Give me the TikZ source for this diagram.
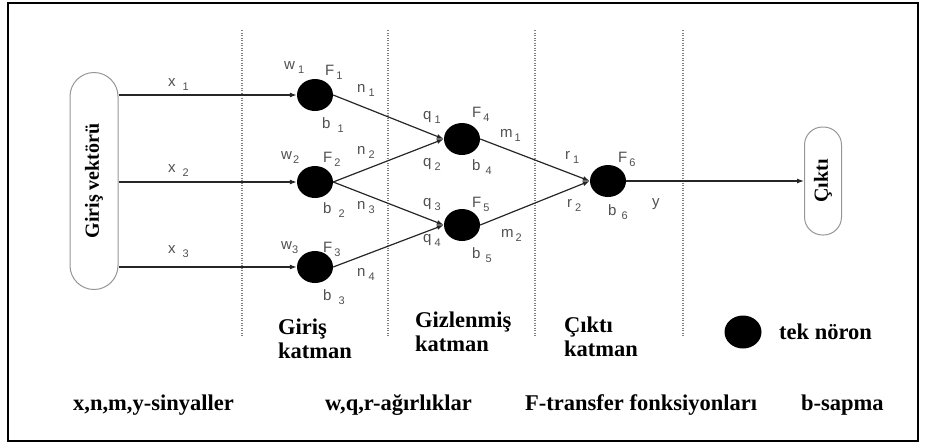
\documentclass[tikz,border=0pt]{standalone}
\usepackage{fontspec}
\usepackage{graphicx}
\setmainfont{Liberation Serif}
\newfontfamily\labfont{Liberation Sans}
\usetikzlibrary{arrows.meta,shapes.geometric}
\definecolor{labgray}{RGB}{80,80,80}
\definecolor{boxgray}{RGB}{150,150,150}
% letter with a lowered index
\newcommand{\sig}[3][4pt]{#2\hspace{#1}\raisebox{-4pt}{\fontsize{11}{11}\selectfont #3}}

\begin{document}
\begin{tikzpicture}[x=1pt,y=-1pt,
  neuron/.style={ellipse,fill=black,minimum width=36pt,minimum height=32pt,inner sep=0pt},
  vecbox/.style={draw=boxgray,line width=1pt,rounded corners=#1,inner sep=0pt},
  lab/.style={font={\labfont\fontsize{15}{15}\selectfont},text=labgray,inner sep=0pt,anchor=base west},
  txt/.style={font={\bfseries\fontsize{22.5}{24}\selectfont},inner sep=0pt,align=left,anchor=west},
  sig/.style={-{Latex[length=7pt,width=5pt]},line width=1.2pt,draw=black!85},
  sep/.style={draw=gray,line width=1.2pt,dash pattern=on 1pt off 1.5pt}]

% Frame
\useasboundingbox (0,0) rectangle (926,445);
\draw[line width=2pt] (8,3) rectangle (918,441);

% Layer borders
\foreach \x in {242,388,535,683}
  \draw[sep] (\x,30) -- (\x,337);

% Input and output vectors
\node[vecbox=24pt,minimum width=48pt,minimum height=217pt] (inp) at (94,181)
  {\rotatebox{90}{\bfseries\fontsize{20}{20}\selectfont Giriş vektörü}};
\node[vecbox=18pt,minimum width=37pt,minimum height=108pt] (out) at (823,181)
  {\rotatebox{90}{\bfseries\fontsize{20}{20}\selectfont Çıktı}};

% Neurons
\node[neuron] (f1) at (315,95) {};
\node[neuron] (f2) at (315,182) {};
\node[neuron] (f3) at (315,267) {};
\node[neuron] (f4) at (462,139) {};
\node[neuron] (f5) at (462,225) {};
\node[neuron] (f6) at (608,181) {};

% Signals
\draw[sig] (inp.east |- f1) -- (f1);
\draw[sig] (inp.east |- f2) -- (f2);
\draw[sig] (inp.east |- f3) -- (f3);
\draw[sig] (f1.east) -- (f4.west);
\draw[sig] (f2.east) -- (f4.west);
\draw[sig] (f2.east) -- (f5.west);
\draw[sig] (f3.east) -- (f5.west);
\draw[sig] (f4.east) -- (f6.west);
\draw[sig] (f5.east) -- (f6.west);
\draw[sig] (f6) -- (out);

% Input signals
\node[lab] (lx1) at (168,86) {\sig[7pt]{x}{1}};
\node[lab] (lx2) at (168,172) {\sig[7pt]{x}{2}};
\node[lab] (lx3) at (168,253) {\sig[7pt]{x}{3}};

% Input layer
\node[lab] (lw1) at (284,69) {\sig[3pt]{w}{1}};
\node[lab] (lF1) at (325,75) {\sig[2pt]{F}{1}};
\node[lab] (lb1) at (322,128) {\sig[7pt]{b}{1}};
\node[lab] (ln1) at (357,92) {\sig[3pt]{n}{1}};
\node[lab] (lw2) at (281,159) {\sig[1pt]{w}{2}};
\node[lab] (lF2) at (323,162) {\sig[2pt]{F}{2}};
\node[lab] (lb2) at (323,213) {\sig[7pt]{b}{2}};
\node[lab] (ln2) at (357,154) {\sig[3pt]{n}{2}};
\node[lab] (ln3) at (357,209) {\sig[3pt]{n}{3}};
\node[lab] (lw3) at (281,249) {\sig[0pt]{w}{3}};
\node[lab] (lF3) at (323,252) {\sig[2pt]{F}{3}};
\node[lab] (lb3) at (323,300) {\sig[7pt]{b}{3}};
\node[lab] (ln4) at (357,276) {\sig[3pt]{n}{4}};

% Hidden layer
\node[lab] (lq1) at (423,119) {\sig[3pt]{q}{1}};
\node[lab] (lF4) at (472,117) {\sig[2pt]{F}{4}};
\node[lab] (lq2) at (423,166) {\sig[3pt]{q}{2}};
\node[lab] (lb4) at (472,170) {\sig[5pt]{b}{4}};
\node[lab] (lm1) at (500,137) {\sig[2pt]{m}{1}};
\node[lab] (lq3) at (423,206) {\sig[3pt]{q}{3}};
\node[lab] (lF5) at (472,207) {\sig[2pt]{F}{5}};
\node[lab] (lq4) at (423,242) {\sig[3pt]{q}{4}};
\node[lab] (lm2) at (501,237) {\sig[2pt]{m}{2}};
\node[lab] (lb5) at (472,258) {\sig[5pt]{b}{5}};

% Output layer
\node[lab] (lr1) at (565,159) {\sig[3pt]{r}{1}};
\node[lab] (lF6) at (618,162) {\sig[2pt]{F}{6}};
\node[lab] (lr2) at (567,207) {\sig[3pt]{r}{2}};
\node[lab] (lb6) at (608,215) {\sig[5pt]{b}{6}};
\node[lab] (ly) at (652,206) {y};

% Layer names
\node[txt] (tin) at (278,339) {Giriş\\katman};
\node[txt] (thid) at (415,332) {Gizlenmiş\\katman};
\node[txt] (tout) at (564,337) {Çıktı\\katman};

% Legend
\node[neuron,minimum width=37pt,minimum height=33pt] (leg) at (743,332) {};
\node[txt] (tleg) at (779,332) {tek nöron};
\node[txt] (tsig) at (73,405) {x,n,m,y-sinyaller};
\node[txt] (tw) at (325,405) {w,q,r-ağırlıklar};
\node[txt] (tF) at (525,405) {F-transfer fonksiyonları};
\node[txt] (tb) at (801,405) {b-sapma};
\end{tikzpicture}
\end{document}
